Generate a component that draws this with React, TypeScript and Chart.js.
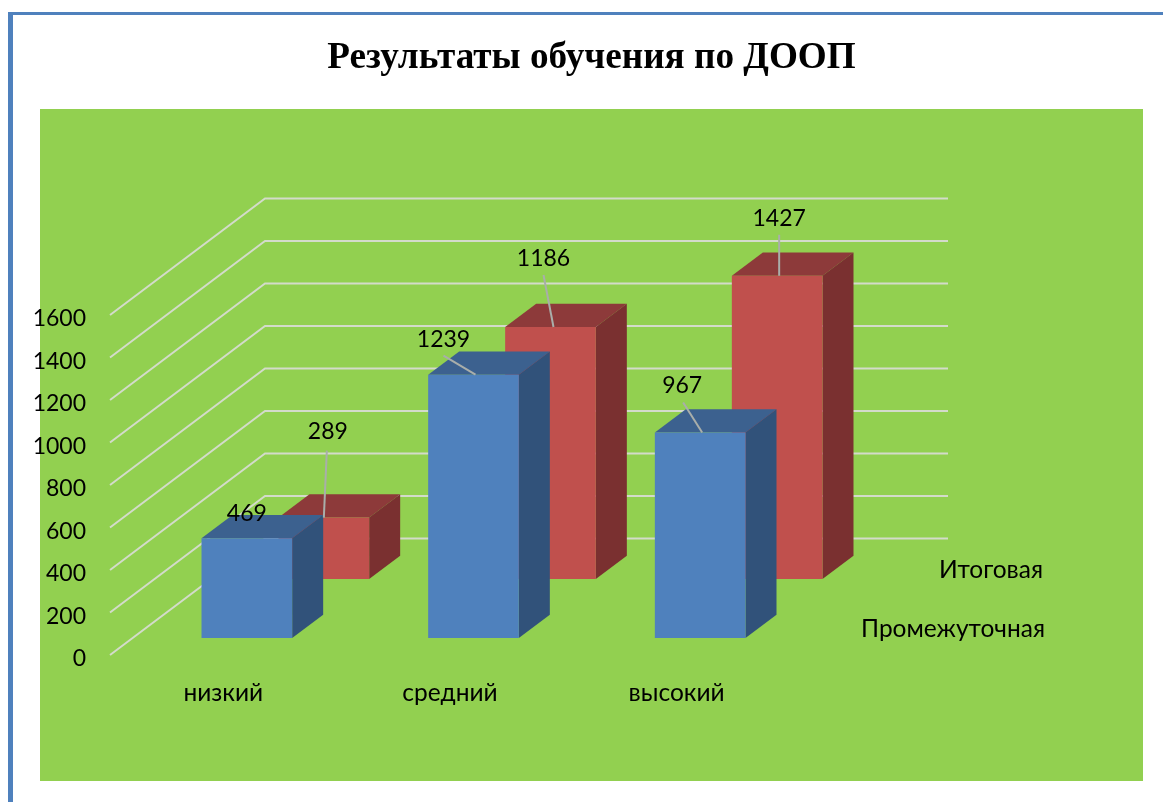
import React, { useEffect, useRef } from "react";
import { Chart, registerables } from "chart.js";

Chart.register(...registerables);

const titleText = "Результаты обучения по ДООП";
const categories = ["низкий", "средний", "высокий"];
const intermediateLabel = "Промежуточная";
const finalLabel = "Итоговая";
const intermediateValues = [469, 1239, 967];
const finalValues = [289, 1186, 1427];

const FONT = "Lato";
const TEXT_SIZE = 24.5;
const NUMBER_SIZE = 23;
const DEPTH = { x: 31, y: -23.3 };
const AXIS_LINE_LIFT = 4;
const WALL = { x: 155, y: -120.5, rightFromLeft: 838 };
const OFFSETS = [{ x: 23.5, y: -21 }, { x: 100.5, y: -80 }];
const FACE_COLORS = [
  { front: "#4f81bd", side: "#31527a", top: "#3c618f" },
  { front: "#c0504d", side: "#7a3030", top: "#8d3a3a" },
];
// label centre and leader start, relative to the front-top centre of each bar
const LABEL_OFFSETS = [
  [{ x: 0, y: -25 }, { x: -30, y: -35 }, { x: -18, y: -47 }],
  [{ x: 4, y: -86 }, { x: -7, y: -68 }, { x: 2, y: -57 }],
];
const LEADERS: ({ x0: number; y0: number; x1: number } | null)[][] = [
  [null, { x0: -30, y0: -19, x1: 2 }, { x0: -17, y0: -30, x1: 2 }],
  [{ x0: 3, y0: -67, x1: 0 }, { x0: -7, y0: -52, x1: 3 }, { x0: 2, y0: -41, x1: 2 }],
];
const SERIES_NAME_POS = [
  { right: 1025, y: 629 },
  { right: 1023, y: 570 },
];

const scene3d = {
  id: "scene3d",
  beforeDraw(chart: any) {
    const { ctx } = chart;
    ctx.save();
    ctx.fillStyle = "#92d050";
    ctx.fillRect(20, 109, 1103, 672);
    ctx.restore();
  },
  beforeDatasetsDraw(chart: any) {
    const { ctx, chartArea } = chart;
    const yScale = chart.scales.y;
    ctx.save();
    ctx.strokeStyle = "#d3dbca";
    ctx.lineWidth = 2;
    for (const tick of yScale.ticks) {
      const py = yScale.getPixelForValue(tick.value);
      ctx.beginPath();
      ctx.moveTo(chartArea.left, py - AXIS_LINE_LIFT);
      ctx.lineTo(chartArea.left + WALL.x, py + WALL.y);
      ctx.lineTo(chartArea.left + WALL.rightFromLeft, py + WALL.y);
      ctx.stroke();
    }
    ctx.restore();
  },
  beforeDatasetDraw(chart: any, args: any) {
    const { ctx } = chart;
    const off = OFFSETS[args.index];
    const colors = FACE_COLORS[args.index];
    ctx.save();
    ctx.translate(off.x, off.y);
    for (const bar of args.meta.data) {
      const l = bar.x - bar.width / 2;
      const r = bar.x + bar.width / 2;
      ctx.fillStyle = colors.top;
      ctx.beginPath();
      ctx.moveTo(l, bar.y);
      ctx.lineTo(l + DEPTH.x, bar.y + DEPTH.y);
      ctx.lineTo(r + DEPTH.x, bar.y + DEPTH.y);
      ctx.lineTo(r, bar.y);
      ctx.closePath();
      ctx.fill();
      ctx.fillStyle = colors.side;
      ctx.beginPath();
      ctx.moveTo(r, bar.y);
      ctx.lineTo(r + DEPTH.x, bar.y + DEPTH.y);
      ctx.lineTo(r + DEPTH.x, bar.base + DEPTH.y);
      ctx.lineTo(r, bar.base);
      ctx.closePath();
      ctx.fill();
    }
  },
  afterDatasetDraw(chart: any) {
    chart.ctx.restore();
  },
  afterDatasetsDraw(chart: any) {
    const { ctx } = chart;
    ctx.save();
    ctx.textAlign = "center";
    ctx.textBaseline = "middle";
    ctx.font = `${NUMBER_SIZE}px ${FONT}`;
    for (let d = 1; d >= 0; d--) {
      const meta = chart.getDatasetMeta(d);
      const off = OFFSETS[d];
      meta.data.forEach((bar: any, i: number) => {
        const cx = bar.x + off.x;
        const top = bar.y + off.y;
        const leader = LEADERS[d][i];
        if (leader) {
          ctx.strokeStyle = "#a9aeaa";
          ctx.lineWidth = 2;
          ctx.beginPath();
          ctx.moveTo(cx + leader.x0, top + leader.y0);
          ctx.lineTo(cx + leader.x1, top);
          ctx.stroke();
        }
        ctx.fillStyle = "#000";
        ctx.fillText(
          String(chart.data.datasets[d].data[i]),
          cx + LABEL_OFFSETS[d][i].x,
          top + LABEL_OFFSETS[d][i].y
        );
      });
    }
    ctx.textAlign = "right";
    ctx.font = `${TEXT_SIZE}px ${FONT}`;
    chart.data.datasets.forEach((ds: any, d: number) => {
      ctx.fillStyle = "#000";
      ctx.fillText(ds.label, SERIES_NAME_POS[d].right, SERIES_NAME_POS[d].y);
    });
    ctx.restore();
  },
};

export default function App() {
  const ref = useRef<HTMLCanvasElement>(null);
  useEffect(() => {
    const chart = new Chart(ref.current!, {
      type: "bar",
      data: {
        labels: categories,
        datasets: [
          { label: intermediateLabel, data: intermediateValues, backgroundColor: FACE_COLORS[0].front, clip: false } as any,
          { label: finalLabel, data: finalValues, backgroundColor: FACE_COLORS[1].front, clip: false } as any,
        ],
      },
      options: {
        responsive: false,
        animation: false,
        layout: { padding: 0 },
        datasets: { bar: { grouped: false, categoryPercentage: 0.4, barPercentage: 1, borderWidth: 0 } },
        plugins: {
          legend: { display: false },
          tooltip: { enabled: false },
          title: {
            display: true,
            text: titleText,
            color: "#000",
            font: { family: "Liberation Serif", size: 37.2, weight: "bold", lineHeight: 1.2 },
            padding: { top: 36.5, bottom: 237.86 },
          },
        },
        scales: {
          x: {
            afterFit(scale: any) { scale.height = 143; },
            grid: { display: false, drawTicks: false },
            border: { display: false },
            ticks: { color: "#000", padding: 19, font: { family: FONT, size: TEXT_SIZE }, maxRotation: 0 },
          },
          y: {
            min: 0,
            max: 1600,
            afterFit(scale: any) { scale.width = 90; },
            grid: { display: false, drawTicks: false },
            border: { display: false },
            ticks: {
              color: "#000",
              stepSize: 200,
              padding: 24,
              font: { family: FONT, size: NUMBER_SIZE },
              callback: (v: any) => String(v),
            },
          },
          depthSpace: {
            position: "right",
            min: 0,
            max: 1600,
            afterFit(scale: any) { scale.width = 373; },
            grid: { display: false, drawTicks: false },
            border: { display: false },
            ticks: { display: false },
          },
        },
      } as any,
      plugins: [scene3d as any],
    });
    return () => chart.destroy();
  }, []);

  return (
    <div style={{ position: "fixed", inset: 0, background: "#fff", overflow: "hidden" }}>
      <div
        style={{
          position: "absolute",
          left: 8,
          top: 12,
          right: 0,
          bottom: 0,
          borderLeft: "5px solid #4f81bd",
          borderTop: "3px solid #4f81bd",
        }}
      />
      <canvas ref={ref} width={1143} height={802} style={{ position: "absolute", left: 20, top: 0, display: "block" }} />
    </div>
  );
}
